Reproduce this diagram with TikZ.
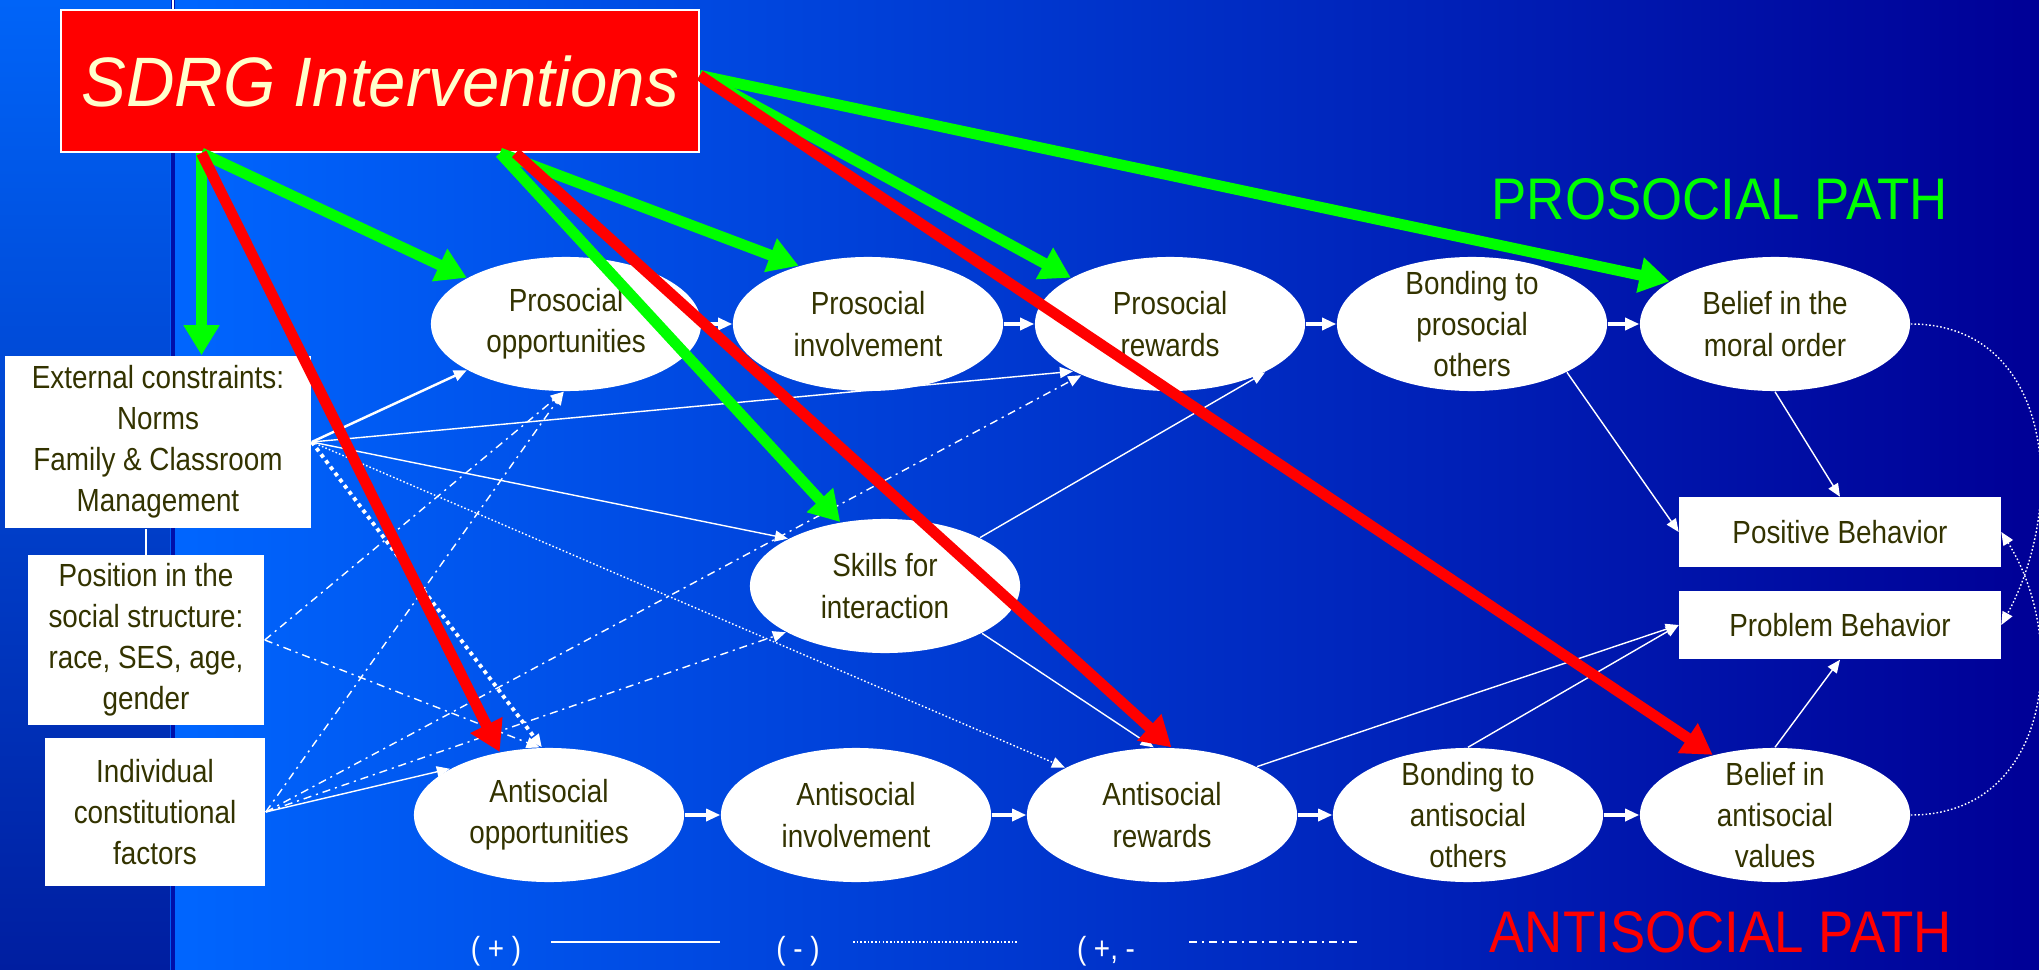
\documentclass[tikz,border=0pt]{standalone}
\usepackage{fontspec}
\setmainfont{Liberation Sans}
\newfontfamily\boxfont[FakeStretch=0.87]{Liberation Sans}
\newfontfamily\pathfont[FakeStretch=0.9]{Liberation Sans}
\newfontfamily\sdrgfont[FakeStretch=0.96]{Liberation Sans}
\usetikzlibrary{positioning}
\usetikzlibrary{calc}
\usetikzlibrary{arrows.meta}
\usetikzlibrary{shapes.geometric}

\definecolor{bgleft}{RGB}{0,102,255}
\definecolor{bgright}{RGB}{0,0,150}
\definecolor{striptop}{RGB}{0,100,248}
\definecolor{stripbot}{RGB}{0,30,160}
\definecolor{stripline}{RGB}{0,16,170}
\definecolor{boxtext}{RGB}{51,51,0}
\definecolor{sdrgtext}{RGB}{255,255,204}
\definecolor{pgreen}{RGB}{0,255,0}
\definecolor{ared}{RGB}{255,0,0}

\begin{document}
\begin{tikzpicture}[x=0.01cm,y=-0.01cm]
	\tikzstyle{oval} = [ellipse,fill=white,minimum width=2.70cm,minimum height=1.34cm,inner xsep=0pt,inner ysep=-4pt,align=center,text=boxtext,font=\boxfont\fontsize{9.1}{11.7}\selectfont]
	\tikzstyle{factor} = [rectangle,fill=white,inner sep=0pt,align=center,text=boxtext,font=\boxfont\fontsize{9.1}{11.7}\selectfont]
	\tikzstyle{poslink} = [white,line width=0.4pt,-{Triangle[length=0.13cm,width=0.11cm]}]
	\tikzstyle{neglink} = [poslink,dash pattern=on 0.45pt off 0.6pt]
	\tikzstyle{mixlink} = [poslink,dash pattern=on 2.3pt off 1.4pt on 0.6pt off 1.4pt]
	\tikzstyle{chain} = [white,line width=0.9pt,-{Triangle[length=0.14cm,width=0.12cm]}]
	\tikzstyle{fat} = [line width=3.1pt,-{Triangle[length=0.30cm,width=0.34cm]}]
	\tikzstyle{key} = [white,inner sep=0pt,font=\boxfont\fontsize{9.1}{11.7}\selectfont]

	% background
	\useasboundingbox (0,0) rectangle (2039,970);
	\fill[left color=bgleft,right color=bgright] (170,0) rectangle (2039,970);
	\fill[top color=striptop,bottom color=stripbot] (0,0) rectangle (170,970);
	\draw[stripline,line width=1.1pt] (173,0) -- (173,970);
	\draw[white,line width=0.6pt] (173,0) -- (173,10);

	% intervention box
	\node[fill=ared,draw=white,line width=0.6pt,minimum width=6.37cm,minimum height=1.42cm,inner sep=0pt,text=sdrgtext,font=\sdrgfont\itshape\fontsize{19.9}{24}\selectfont] (SDRG) at (380,81) {SDRG Interventions};

	% exogenous factors
	\node[factor,minimum width=3.06cm,minimum height=1.72cm] (External) at (158,442) {External constraints:\\Norms\\Family \& Classroom\\Management};
	\node[factor,minimum width=2.36cm,minimum height=1.69cm] (Position) at (146,640) {Position in the\\social structure:\\race, SES, age,\\gender};
	\node[factor,minimum width=2.20cm,minimum height=1.48cm] (Individual) at (155,812) {Individual\\constitutional\\factors};
	\draw[white,line width=0.4pt] (Position.north) -- (Position.north |- External.south);

	% prosocial path
	\node[oval] (ProsOpp) at (566,324) {Prosocial\\opportunities};
	\node[oval] (ProsInv) at (868,324) {Prosocial\\involvement};
	\node[oval] (ProsRew) at (1170,324) {Prosocial\\rewards};
	\node[oval] (BondPro) at (1472,324) {Bonding to\\prosocial\\others};
	\node[oval] (BelMoral) at (1775,324) {Belief in the\\moral order};

	\node[oval] (Skills) at (885,586) {Skills for\\interaction};

	% antisocial path
	\node[oval] (AntiOpp) at (549,815) {Antisocial\\opportunities};
	\node[oval] (AntiInv) at (856,815) {Antisocial\\involvement};
	\node[oval] (AntiRew) at (1162,815) {Antisocial\\rewards};
	\node[oval] (BondAnti) at (1468,815) {Bonding to\\antisocial\\others};
	\node[oval] (BelAnti) at (1775,815) {Belief in\\antisocial\\values};

	% outcomes
	\node[factor,minimum width=3.21cm,minimum height=0.69cm] (Positive) at (1840,532) {Positive Behavior};
	\node[factor,minimum width=3.21cm,minimum height=0.68cm] (Problem) at (1840,625) {Problem Behavior};

	\node[anchor=base west,inner sep=0pt,text=pgreen,font=\pathfont\fontsize{16.7}{20}\selectfont] (ProsPath) at (1491,220) {PROSOCIAL PATH};
	\node[anchor=base west,inner sep=0pt,text=ared,font=\pathfont\fontsize{16.7}{20}\selectfont] (AntiPath) at (1489,952) {ANTISOCIAL PATH};

	% chains
	\foreach \a/\b in {ProsOpp/ProsInv,ProsInv/ProsRew,ProsRew/BondPro,BondPro/BelMoral,AntiOpp/AntiInv,AntiInv/AntiRew,AntiRew/BondAnti,BondAnti/BelAnti}
		\draw[chain] (\a) -- (\b);

	% links from the left
	\draw[poslink,line width=0.7pt] (External.east) -- (ProsOpp.205);
	\draw[poslink] (External.east) -- (ProsRew.206);
	\draw[poslink] (External.east) -- (Skills.154);
	\draw[neglink] (External.east) -- (AntiRew.154);
	\draw[neglink,line width=1.1pt,dash pattern=on 1.1pt off 1.1pt] (External.east) -- (AntiOpp.96);
	\draw[mixlink] (Position.east) -- (ProsOpp.268);
	\draw[mixlink] (Position.east) -- (AntiOpp.98);
	\draw[poslink] (Individual.east) -- (AntiOpp.155);
	\draw[mixlink] (Individual.east) -- (ProsOpp.268);
	\draw[mixlink] (Individual.east) -- (ProsRew.210);
	\draw[mixlink] (Individual.east) -- (Skills.205);

	\draw[poslink] (Skills.27) -- (ProsRew.-27);
	\draw[poslink] (Skills.-26) -- (AntiRew.97);

	% links to behavior
	\draw[poslink] (BondPro.-27) -- (Positive.west);
	\draw[poslink] (BelMoral.south) -- (Positive.north);
	\draw[poslink] (AntiRew.27) -- (Problem.west);
	\draw[poslink] (BondAnti.north) -- (Problem.west);
	\draw[poslink] (BelAnti.north) -- (Problem.south);
	\draw[neglink] (BelMoral.east) .. controls +(140,0) and +(68,-125) .. (Problem.east);
	\draw[neglink] (BelAnti.east) .. controls +(140,0) and +(68,108) .. (Positive.east);

	% intervention arrows
	\draw[fat,pgreen] (SDRG.202) -- (SDRG.202 |- External.north);
	\draw[fat,pgreen] (SDRG.202) -- (ProsOpp.155);
	\draw[fat,pgreen] (SDRG.-31) -- (ProsInv.140);
	\draw[fat,pgreen] (SDRG.-31) -- (Skills.125);
	\draw[fat,pgreen] (SDRG.1) -- (ProsRew.155);
	\draw[fat,pgreen] (SDRG.1) -- (BelMoral.158);
	\draw[fat,ared] (SDRG.202) -- (AntiOpp.128);
	\draw[fat,ared] (SDRG.-28) -- (AntiRew.82);
	\draw[fat,ared] (SDRG.1) -- (BelAnti.136);

	% legend
	\node[key] (PlusKey) at (496,951) {( + )};
	\draw[white,line width=0.6pt] (551,942) -- (720,942);
	\node[key] (MinusKey) at (798,951) {( - )};
	\draw[white,line width=0.4pt,dash pattern=on 0.45pt off 0.6pt] (853,942) -- (1019,942);
	\node[key] (MixKey) at (1106,951) {( +, -};
	\draw[white,line width=0.6pt,dash pattern=on 2.3pt off 1.4pt on 0.6pt off 1.4pt] (1189,942) -- (1358,942);
\end{tikzpicture}
\end{document}
